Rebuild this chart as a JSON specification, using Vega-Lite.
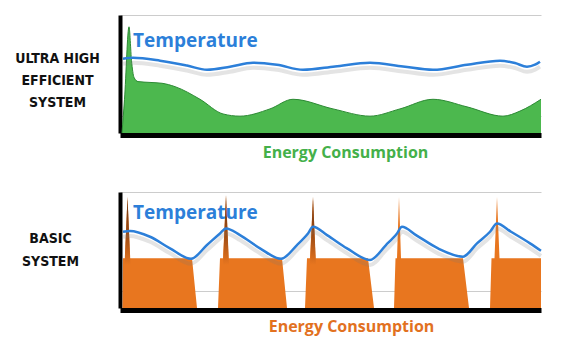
{
  "$schema": "https://vega.github.io/schema/vega-lite/v6.json",
  "padding": {"left": 14, "top": 15, "right": 5, "bottom": 5},
  "background": "white",
  "config": {"view": {"stroke": null}, "font": "Open Sans"},
  "spacing": 59,
  "bounds": "flush",
  "datasets": {
    "efficient_energy": [{"t":2,"value":0},{"t":4.5,"value":2.0},{"t":9,"value":6.3},{"t":11.5,"value":4.3},{"t":14,"value":3.3},{"t":18,"value":3.05},{"t":30,"value":3.0},{"t":42,"value":2.95},{"t":55,"value":2.75},{"t":80,"value":2.0},{"t":103,"value":1.13},{"t":120,"value":1.0},{"t":150,"value":1.43},{"t":173,"value":2.0},{"t":213,"value":1.43},{"t":250,"value":1.0},{"t":280,"value":1.43},{"t":313,"value":2.0},{"t":347,"value":1.55},{"t":383,"value":1.0},{"t":400,"value":1.3},{"t":421,"value":2.0}],
    "efficient_temp": [{"t":3,"value":4.4},{"t":13,"value":4.46},{"t":40,"value":4.29},{"t":67,"value":4.0},{"t":87,"value":3.75},{"t":110,"value":3.93},{"t":133,"value":4.17},{"t":157,"value":4.05},{"t":183,"value":3.75},{"t":215,"value":3.95},{"t":250,"value":4.17},{"t":283,"value":3.95},{"t":313,"value":3.75},{"t":347,"value":4.05},{"t":380,"value":4.29},{"t":395,"value":4.15},{"t":407,"value":3.93},{"t":415,"value":4.05},{"t":420,"value":4.23}],
    "basic_energy": [{"t":2.5,"value":0},{"t":3,"value":3},{"t":5,"value":3},{"t":7.5,"value":6.7},{"t":10,"value":3},{"t":72,"value":3},{"t":77,"value":0},{"t":98,"value":0},{"t":100,"value":3},{"t":103,"value":3},{"t":106,"value":6.8},{"t":108.5,"value":3},{"t":162,"value":3},{"t":167,"value":0},{"t":185,"value":0},{"t":187,"value":3},{"t":190,"value":3},{"t":193,"value":6.7},{"t":195.5,"value":3},{"t":248,"value":3},{"t":254,"value":0},{"t":274,"value":0},{"t":275.5,"value":3},{"t":277,"value":3},{"t":279,"value":6.7},{"t":281,"value":3},{"t":343,"value":3},{"t":349,"value":0},{"t":370,"value":0},{"t":371.5,"value":3},{"t":374.5,"value":3},{"t":377,"value":6.7},{"t":379.5,"value":3},{"t":421,"value":3}],
    "basic_spikes": [{"cycle":1,"t":4.5,"value":2.6},{"cycle":1,"t":7.5,"value":6.7},{"cycle":1,"t":10.5,"value":2.6},{"cycle":2,"t":103,"value":2.6},{"cycle":2,"t":106,"value":6.8},{"cycle":2,"t":109,"value":2.6},{"cycle":3,"t":190,"value":2.6},{"cycle":3,"t":193,"value":6.7},{"cycle":3,"t":196,"value":2.6}],
    "basic_temp": [{"t":3,"value":4.6},{"t":10,"value":4.65},{"t":30,"value":4.3},{"t":50,"value":3.6},{"t":71,"value":2.97},{"t":87,"value":3.8},{"t":100,"value":4.5},{"t":106,"value":4.8},{"t":120,"value":4.4},{"t":140,"value":3.6},{"t":161,"value":2.97},{"t":177,"value":3.8},{"t":188,"value":4.5},{"t":193,"value":4.9},{"t":207,"value":4.4},{"t":227,"value":3.6},{"t":250,"value":2.9},{"t":266,"value":3.8},{"t":277,"value":4.5},{"t":282,"value":4.9},{"t":296,"value":4.4},{"t":318,"value":3.6},{"t":343,"value":3.1},{"t":357,"value":3.9},{"t":370,"value":4.6},{"t":377,"value":5.1},{"t":391,"value":4.6},{"t":410,"value":3.9},{"t":421,"value":3.45}]
  },
  "vconcat": [
    {
      "width": 421,
      "height": 118,
      "layer": [
        {
          "data": {"name": "efficient_energy"},
          "mark": {"type": "area", "interpolate": "monotone", "color": "#4CB84E", "opacity": 1, "fillOpacity": 1, "line": {"color": "#2C8A34", "strokeWidth": 1}},
          "encoding": {
            "x": {"field": "t", "type": "quantitative", "scale": {"domain": [0, 421], "nice": false, "zero": false},
              "axis": {"title": "Energy Consumption", "titleColor": "#44B04A", "titleFontSize": 16, "titleFontWeight": "bold", "titleX": 225, "titleY": 17, "titleAlign": "center", "titleBaseline": "middle", "labels": false, "ticks": false, "grid": false, "domainColor": "#000000", "domainWidth": 5, "offset": 2}},
            "y": {"field": "value", "type": "quantitative", "scale": {"domain": [0, 7], "nice": false},
              "axis": {"title": ["ULTRA HIGH", "EFFICIENT", "SYSTEM"], "titleAngle": 0, "titleAlign": "center", "titleBaseline": "middle", "titleX": -63, "titleY": 43, "titleFont": "Liberation Sans Narrow, DejaVu Sans Condensed, sans-serif", "titleFontSize": 14, "titleFontWeight": "bold", "titleColor": "#111111", "titleLineHeight": 22, "values": [1, 2, 3, 4, 5, 6, 7], "labels": false, "ticks": false, "domainColor": "#000000", "domainWidth": 4, "grid": true, "gridColor": "#cccccc", "gridWidth": 1}}
          }
        },
        {
          "data": {"name": "efficient_temp"},
          "mark": {"type": "line", "interpolate": "monotone", "color": "#777777", "opacity": 0.2, "strokeWidth": 4, "yOffset": 5},
          "encoding": {"x": {"field": "t", "type": "quantitative"}, "y": {"field": "value", "type": "quantitative"}}
        },
        {
          "data": {"name": "efficient_temp"},
          "mark": {"type": "line", "interpolate": "monotone", "color": "#2C7FD9", "strokeWidth": 2.5},
          "encoding": {"x": {"field": "t", "type": "quantitative"}, "y": {"field": "value", "type": "quantitative"}}
        },
        {
          "data": {"values": [{"label": "Temperature", "t": 13, "value": 5.48}]},
          "mark": {"type": "text", "align": "left", "baseline": "middle", "font": "Open Sans", "fontWeight": "bold", "fontSize": 19, "color": "#2C7FD9"},
          "encoding": {"x": {"field": "t", "type": "quantitative"}, "y": {"field": "value", "type": "quantitative"}, "text": {"field": "label"}}
        }
      ]
    },
    {
      "width": 421,
      "height": 116,
      "layer": [
        {
          "data": {"name": "basic_energy"},
          "mark": {"type": "area", "interpolate": "linear", "color": "#E8761F", "opacity": 1},
          "encoding": {
            "x": {"field": "t", "type": "quantitative", "scale": {"domain": [0, 421], "nice": false, "zero": false},
              "axis": {"title": "Energy Consumption", "titleColor": "#E2711F", "titleFontSize": 16, "titleFontWeight": "bold", "titleX": 231, "titleY": 16, "titleAlign": "center", "titleBaseline": "middle", "labels": false, "ticks": false, "grid": false, "domainColor": "#000000", "domainWidth": 5, "offset": 2}},
            "y": {"field": "value", "type": "quantitative", "scale": {"domain": [0, 7], "nice": false},
              "axis": {"title": ["BASIC", "SYSTEM"], "titleAngle": 0, "titleAlign": "center", "titleBaseline": "middle", "titleX": -70, "titleY": 46, "titleFont": "Liberation Sans Narrow, DejaVu Sans Condensed, sans-serif", "titleFontSize": 14, "titleFontWeight": "bold", "titleColor": "#111111", "titleLineHeight": 23, "values": [1, 2, 3, 4, 5, 6, 7], "labels": false, "ticks": false, "domainColor": "#000000", "domainWidth": 4, "grid": true, "gridColor": "#cccccc", "gridWidth": 1}}
          }
        },
        {
          "data": {"name": "basic_spikes"},
          "mark": {"type": "area", "interpolate": "linear", "opacity": 1, "color": {"gradient": "linear", "x1": 0, "y1": 0, "x2": 0, "y2": 1, "stops": [{"offset": 0, "color": "#6E3510"}, {"offset": 0.6, "color": "#A24E15"}, {"offset": 1, "color": "#E8761F"}]}},
          "encoding": {"x": {"field": "t", "type": "quantitative"}, "y": {"field": "value", "type": "quantitative"}, "y2": {"datum": 2.6}, "detail": {"field": "cycle", "type": "nominal"}}
        },
        {
          "data": {"name": "basic_temp"},
          "mark": {"type": "line", "interpolate": "monotone", "color": "#777777", "opacity": 0.2, "strokeWidth": 4, "yOffset": 5},
          "encoding": {"x": {"field": "t", "type": "quantitative"}, "y": {"field": "value", "type": "quantitative"}}
        },
        {
          "data": {"name": "basic_temp"},
          "mark": {"type": "line", "interpolate": "monotone", "color": "#2C7FD9", "strokeWidth": 2.5},
          "encoding": {"x": {"field": "t", "type": "quantitative"}, "y": {"field": "value", "type": "quantitative"}}
        },
        {
          "data": {"values": [{"label": "Temperature", "t": 13, "value": 5.76}]},
          "mark": {"type": "text", "align": "left", "baseline": "middle", "font": "Open Sans", "fontWeight": "bold", "fontSize": 19, "color": "#2C7FD9"},
          "encoding": {"x": {"field": "t", "type": "quantitative"}, "y": {"field": "value", "type": "quantitative"}, "text": {"field": "label"}}
        }
      ]
    }
  ]
}
